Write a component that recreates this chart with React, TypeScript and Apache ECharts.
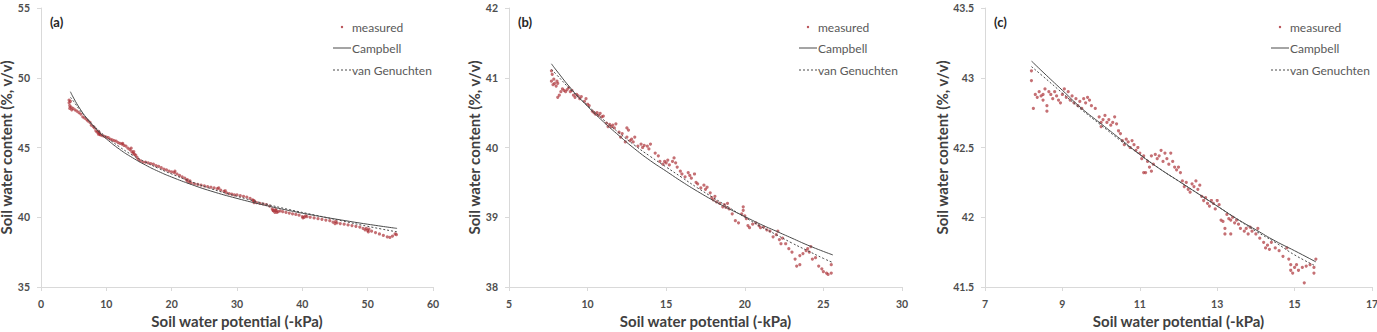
import { useEffect, useRef } from "react";
import * as echarts from "echarts";

// ---------- Panel (a) ----------
const xRangeA = [0, 60, 10];
const yRangeA = [35, 55, 5];
const measuredA: number[][] = [
  [4.3, 48.4], [4.3, 48.2], [4.4, 48.0], [4.4, 47.8], [4.5, 48.3], [4.6, 47.9], [4.7, 47.7], [4.9, 47.8],
  [5.2, 47.7], [5.5, 47.6], [5.8, 47.5], [6.1, 47.4], [6.4, 47.2], [6.7, 47.1], [7.0, 47.0], [7.2, 46.9],
  [7.5, 46.8], [7.7, 46.6], [8.0, 46.5], [8.2, 46.4], [8.4, 46.2], [8.6, 46.1], [8.8, 45.95], [8.8, 46.15],
  [8.9, 46.05], [9.0, 45.95], [9.1, 45.9], [9.4, 45.85], [9.7, 45.8], [10.0, 45.75], [10.3, 45.7], [10.6, 45.6],
  [10.9, 45.55], [11.2, 45.5], [11.5, 45.45], [11.8, 45.35], [12.1, 45.3], [12.4, 45.25], [12.5, 45.3], [12.7, 45.15],
  [13.0, 45.1], [13.3, 44.95], [13.6, 44.85], [13.8, 44.95], [13.9, 44.7], [14.1, 44.6], [14.2, 44.7], [14.3, 44.5],
  [14.5, 44.45], [14.7, 44.3], [14.9, 44.15], [15.2, 44.05], [15.6, 43.95], [16.0, 43.95], [16.4, 43.9], [16.8, 43.85],
  [17.2, 43.8], [17.6, 43.7], [18.0, 43.65], [18.4, 43.55], [18.8, 43.45], [19.2, 43.4], [19.6, 43.3], [20.0, 43.25],
  [20.4, 43.2], [20.5, 43.3], [20.8, 43.1], [21.2, 43.0], [21.6, 42.9], [22.0, 42.8], [22.3, 42.65], [22.4, 42.7],
  [22.6, 42.5], [22.8, 42.6], [23.0, 42.45], [23.5, 42.4], [24.0, 42.35], [24.5, 42.3], [25.0, 42.25], [25.5, 42.2],
  [26.0, 42.15], [26.5, 42.1], [27.0, 42.05], [27.2, 42.1], [27.5, 41.95], [28.0, 41.85], [28.2, 41.9], [28.4, 41.75],
  [28.8, 41.7], [29.2, 41.65], [29.6, 41.6], [30.0, 41.6], [30.5, 41.55], [31.0, 41.5], [31.5, 41.45], [32.0, 41.35],
  [32.4, 41.25], [32.5, 41.2], [32.6, 41.05], [32.7, 41.15], [33.0, 41.05], [33.5, 41.0], [34.0, 40.95], [34.5, 40.9],
  [35.0, 40.8], [35.4, 40.6], [35.5, 40.5], [35.6, 40.45], [35.8, 40.35], [35.9, 40.55], [36.0, 40.5], [36.1, 40.35],
  [36.3, 40.4], [36.6, 40.45], [37.0, 40.4], [37.5, 40.35], [38.0, 40.3], [38.5, 40.25], [39.0, 40.2], [39.5, 40.15],
  [40.0, 40.05], [40.1, 39.95], [40.3, 40.0], [40.5, 40.1], [40.7, 40.05], [41.2, 40.0], [41.8, 39.95], [42.4, 39.9],
  [43.0, 39.85], [43.6, 39.8], [44.2, 39.75], [44.7, 39.65], [45.0, 39.55], [45.1, 39.7], [45.3, 39.6], [45.8, 39.55],
  [46.4, 39.5], [47.0, 39.45], [47.6, 39.4], [48.2, 39.35], [48.8, 39.3], [49.3, 39.2], [49.6, 39.1], [49.8, 39.2],
  [50.0, 39.05], [50.1, 38.95], [50.2, 39.15], [50.6, 39.0], [51.2, 38.9], [51.8, 38.8], [52.4, 38.7], [53.0, 38.6],
  [53.4, 38.55], [53.8, 38.65], [54.2, 38.8], [54.4, 38.75],
];
const campbellA: number[][] = [
  [4.5, 49.0], [5, 48.54], [6, 47.75], [7, 47.1], [8, 46.54], [9, 46.05], [10, 45.62], [12, 44.88], [14, 44.27],
  [16, 43.74], [18, 43.28], [20, 42.88], [23, 42.35], [26, 41.88], [30, 41.35], [34, 40.89], [38, 40.48],
  [42, 40.12], [46, 39.8], [50, 39.5], [54.5, 39.2],
];
const genuchtenA: number[][] = [
  [4.5, 48.6], [5, 48.3], [6, 47.65], [7, 47.1], [8, 46.6], [9, 46.15], [10, 45.75], [12, 45.05], [14, 44.45],
  [16, 43.95], [18, 43.5], [20, 43.1], [23, 42.55], [26, 42.05], [30, 41.5], [34, 41.0], [38, 40.55],
  [42, 40.15], [46, 39.75], [50, 39.35], [54.5, 38.95],
];

// ---------- Panel (b) ----------
const xRangeB = [5, 30, 5];
const yRangeB = [38, 42, 1];
const measuredB: number[][] = [
  [7.7, 41.1], [7.7, 40.95], [7.75, 41.05], [7.8, 40.9], [7.85, 40.98], [7.9, 40.92], [8.0, 40.88], [8.05, 40.95],
  [8.1, 40.92], [8.1, 40.72], [8.2, 40.75], [8.3, 40.8], [8.4, 40.84], [8.5, 40.82], [8.6, 40.8], [8.7, 40.83],
  [8.8, 40.86], [8.9, 40.8], [9.0, 40.82], [9.1, 40.75], [9.2, 40.72], [9.3, 40.76], [9.4, 40.74], [9.5, 40.7],
  [9.6, 40.73], [9.8, 40.66], [9.9, 40.7], [10.0, 40.62], [10.1, 40.6], [10.3, 40.52], [10.4, 40.5], [10.5, 40.48],
  [10.6, 40.5], [10.7, 40.46], [10.8, 40.49], [10.9, 40.44], [11.0, 40.45], [11.2, 40.35], [11.3, 40.3], [11.4, 40.33],
  [11.5, 40.3], [11.6, 40.32], [11.7, 40.28], [11.8, 40.34], [12.0, 40.22], [12.1, 40.15], [12.2, 40.2], [12.4, 40.08],
  [12.5, 40.15], [12.5, 40.28], [12.6, 40.25], [12.7, 40.1], [12.8, 40.12], [12.9, 40.08], [13.0, 40.15], [13.2, 40.02],
  [13.4, 40.05], [13.5, 40.0], [13.6, 40.03], [13.8, 40.02], [13.9, 39.98], [14.0, 40.05], [14.3, 39.92], [14.5, 39.88],
  [14.6, 39.8], [14.8, 39.76], [14.9, 39.8], [15.0, 39.78], [15.1, 39.82], [15.2, 39.75], [15.4, 39.8], [15.5, 39.85],
  [15.6, 39.78], [15.7, 39.72], [15.9, 39.66], [16.0, 39.62], [16.2, 39.58], [16.4, 39.64], [16.5, 39.6], [16.6, 39.56],
  [16.8, 39.62], [16.9, 39.5], [17.0, 39.48], [17.2, 39.42], [17.4, 39.46], [17.5, 39.4], [17.6, 39.43], [17.8, 39.35],
  [17.9, 39.28], [18.0, 39.25], [18.1, 39.3], [18.2, 39.22], [18.4, 39.2], [18.6, 39.15], [18.7, 39.18], [18.8, 39.14],
  [18.9, 39.2], [19.0, 39.12], [19.2, 39.05], [19.4, 38.95], [19.6, 38.92], [19.8, 39.05], [19.9, 39.1], [19.9, 39.15],
  [20.0, 39.02], [20.1, 38.98], [20.2, 38.88], [20.3, 38.85], [20.5, 38.9], [20.7, 38.92], [20.9, 38.88], [21.0, 38.85],
  [21.2, 38.86], [21.4, 38.82], [21.6, 38.8], [21.8, 38.72], [22.0, 38.75], [22.1, 38.8], [22.2, 38.68], [22.3, 38.62],
  [22.4, 38.7], [22.6, 38.62], [22.8, 38.55], [23.0, 38.5], [23.2, 38.4], [23.3, 38.3], [23.5, 38.32], [23.5, 38.45],
  [23.7, 38.48], [23.9, 38.52], [24.0, 38.55], [24.1, 38.5], [24.2, 38.58], [24.3, 38.4], [24.5, 38.42], [24.7, 38.3],
  [24.9, 38.26], [25.0, 38.22], [25.2, 38.2], [25.3, 38.18], [25.5, 38.32], [25.5, 38.2],
];
const campbellB: number[][] = [
  [7.7, 41.2], [8, 41.11], [9, 40.83], [10, 40.59], [11, 40.37], [12, 40.17], [13, 39.98], [14, 39.81], [15, 39.66],
  [16, 39.51], [17, 39.37], [18, 39.24], [19, 39.12], [20, 39.01], [21, 38.9], [22, 38.8], [23, 38.7], [24, 38.6],
  [25, 38.51], [25.6, 38.46],
];
const genuchtenB: number[][] = [
  [7.7, 41.12], [8, 41.05], [9, 40.81], [10, 40.6], [11, 40.4], [12, 40.21], [13, 40.03], [14, 39.87], [15, 39.72],
  [16, 39.57], [17, 39.42], [18, 39.28], [19, 39.14], [20, 39.0], [21, 38.87], [22, 38.75], [23, 38.63], [24, 38.52],
  [25, 38.41], [25.6, 38.35],
];

// ---------- Panel (c) ----------
const xRangeC = [7, 17, 2];
const yRangeC = [41.5, 43.5, 0.5];
const measuredC: number[][] = [
  [8.2, 43.05], [8.2, 42.98], [8.25, 42.78], [8.3, 42.88], [8.35, 42.86], [8.4, 42.9], [8.45, 42.87], [8.5, 42.84],
  [8.5, 42.88], [8.55, 42.92], [8.6, 42.8], [8.6, 42.76], [8.65, 42.9], [8.7, 42.88], [8.75, 42.85], [8.8, 42.9],
  [8.85, 42.87], [8.9, 42.84], [8.95, 42.82], [9.0, 42.88], [9.05, 42.92], [9.1, 42.86], [9.15, 42.9], [9.2, 42.84],
  [9.25, 42.87], [9.3, 42.82], [9.35, 42.85], [9.4, 42.8], [9.45, 42.83], [9.5, 42.78], [9.55, 42.85], [9.6, 42.82],
  [9.65, 42.86], [9.7, 42.84], [9.75, 42.8], [9.85, 42.78], [9.95, 42.72], [10.0, 42.68], [10.0, 42.65], [10.05, 42.7],
  [10.1, 42.73], [10.15, 42.68], [10.2, 42.7], [10.25, 42.66], [10.3, 42.68], [10.35, 42.72], [10.4, 42.67], [10.45, 42.62],
  [10.5, 42.6], [10.55, 42.55], [10.6, 42.52], [10.65, 42.56], [10.7, 42.54], [10.75, 42.5], [10.8, 42.55], [10.85, 42.52],
  [10.9, 42.48], [10.95, 42.5], [11.0, 42.46], [11.05, 42.42], [11.1, 42.44], [11.1, 42.32], [11.15, 42.32], [11.2, 42.4],
  [11.25, 42.36], [11.3, 42.44], [11.3, 42.33], [11.35, 42.38], [11.4, 42.45], [11.45, 42.42], [11.5, 42.44], [11.55, 42.48],
  [11.6, 42.4], [11.65, 42.46], [11.7, 42.42], [11.75, 42.38], [11.8, 42.46], [11.85, 42.4], [11.9, 42.36], [11.95, 42.34],
  [12.0, 42.36], [12.05, 42.32], [12.1, 42.26], [12.15, 42.22], [12.2, 42.25], [12.25, 42.2], [12.3, 42.18], [12.35, 42.24],
  [12.4, 42.22], [12.45, 42.26], [12.5, 42.2], [12.55, 42.23], [12.6, 42.15], [12.65, 42.12], [12.7, 42.14], [12.75, 42.1],
  [12.8, 42.08], [12.85, 42.12], [12.9, 42.1], [12.95, 42.06], [13.0, 42.12], [13.05, 42.09], [13.1, 41.98], [13.15, 41.97],
  [13.2, 41.92], [13.2, 41.88], [13.25, 42.02], [13.3, 41.99], [13.35, 41.98], [13.35, 41.88], [13.4, 42.0], [13.45, 41.96],
  [13.5, 41.98], [13.55, 41.95], [13.6, 41.92], [13.7, 41.9], [13.75, 41.92], [13.8, 41.88], [13.85, 41.93], [13.9, 41.9],
  [14.0, 41.88], [14.05, 41.92], [14.1, 41.85], [14.2, 41.82], [14.25, 41.78], [14.3, 41.8], [14.35, 41.77], [14.4, 41.82],
  [14.5, 41.78], [14.6, 41.76], [14.7, 41.72], [14.8, 41.78], [14.85, 41.7], [14.9, 41.66], [14.9, 41.62], [14.95, 41.6],
  [15.0, 41.64], [15.05, 41.66], [15.1, 41.62], [15.2, 41.64], [15.25, 41.53], [15.3, 41.65], [15.4, 41.66], [15.5, 41.64],
  [15.5, 41.6], [15.55, 41.7],
];
const campbellC: number[][] = [
  [8.2, 43.12], [8.5, 43.04], [9, 42.91], [9.5, 42.78], [10, 42.67], [10.5, 42.56], [11, 42.45], [11.5, 42.35],
  [12, 42.26], [12.5, 42.17], [13, 42.08], [13.5, 41.99], [14, 41.91], [14.5, 41.83], [15, 41.76], [15.55, 41.68],
];
const genuchtenC: number[][] = [
  [8.2, 43.08], [8.5, 43.01], [9, 42.89], [9.5, 42.77], [10, 42.66], [10.5, 42.55], [11, 42.45], [11.5, 42.35],
  [12, 42.26], [12.5, 42.17], [13, 42.08], [13.5, 41.99], [14, 41.9], [14.5, 41.82], [15, 41.73], [15.55, 41.65],
];

const panelLetters = ["(a)", "(b)", "(c)"];
const legendNames = ["measured", "Campbell", "van Genuchten"];
const xTitle = "Soil water potential (-kPa)";
const yTitle = "Soil water content (%, v/v)";

const FONT = "Lato, 'Open Sans', sans-serif";
const AXIS_GRAY = "#d9d9d9";
const LABEL_GRAY = "#4d4d4d";
const TITLE_GRAY = "#404040";
const CURVE = "#4a4a4a";
const DOT = "rgba(170, 44, 50, 0.85)";

// Plot-area layout of the three panels (pixels).
const grids = [
  { left: 41, top: 8, width: 392, height: 279, yNameGap: 23, legendX: 352 },
  { left: 509, top: 8, width: 393, height: 279, yNameGap: 28, legendX: 818 },
  { left: 985, top: 8, width: 387, height: 279, yNameGap: 36, legendX: 1290 },
];

const panels = [
  { x: xRangeA, y: yRangeA, measured: measuredA, campbell: campbellA, genuchten: genuchtenA },
  { x: xRangeB, y: yRangeB, measured: measuredB, campbell: campbellB, genuchten: genuchtenB },
  { x: xRangeC, y: yRangeC, measured: measuredC, campbell: campbellC, genuchten: genuchtenC },
];

function buildOption() {
  const axisCommon = {
    type: "value" as const,
    splitLine: { show: false },
    axisLine: { show: true, lineStyle: { color: AXIS_GRAY, width: 1 } },
    axisTick: { show: true, length: 4, lineStyle: { color: AXIS_GRAY } },
    nameLocation: "middle" as const,
    nameTextStyle: { fontFamily: FONT, fontWeight: "bold", fontSize: 15, color: TITLE_GRAY },
  };
  const labelCommon = {
    fontFamily: FONT,
    fontWeight: "bold",
    fontSize: 10.5,
    color: LABEL_GRAY,
    showMinLabel: true,
    showMaxLabel: true,
  };

  const xAxis = panels.map((p, i) => ({
    ...axisCommon,
    gridIndex: i,
    min: p.x[0],
    max: p.x[1],
    interval: p.x[2],
    name: xTitle,
    nameGap: 26,
    axisLabel: { ...labelCommon, margin: 11 },
  }));
  const yAxis = panels.map((p, i) => ({
    ...axisCommon,
    gridIndex: i,
    min: p.y[0],
    max: p.y[1],
    interval: p.y[2],
    name: yTitle,
    nameGap: grids[i].yNameGap,
    axisLabel: { ...labelCommon, margin: 11 },
  }));

  const series: any[] = [];
  panels.forEach((p, i) => {
    series.push({
      type: "scatter",
      name: legendNames[0],
      xAxisIndex: i,
      yAxisIndex: i,
      data: p.measured,
      symbol: "circle",
      symbolSize: 3.2,
      itemStyle: { color: DOT },
      z: 2,
    });
    series.push({
      type: "line",
      name: legendNames[1],
      xAxisIndex: i,
      yAxisIndex: i,
      data: p.campbell,
      smooth: true,
      symbol: "none",
      lineStyle: { color: CURVE, width: 1 },
      z: 3,
    });
    series.push({
      type: "line",
      name: legendNames[2],
      xAxisIndex: i,
      yAxisIndex: i,
      data: p.genuchten,
      smooth: true,
      symbol: "none",
      lineStyle: { color: CURVE, width: 1, type: [2, 2] },
      z: 3,
    });
  });

  // Legend boxes and panel letters.
  const graphic: any[] = [];
  grids.forEach((g, i) => {
    const tx = g.legendX;
    const rows = [27, 48, 70];
    const legendText = (text: string, y: number) => ({
      type: "text",
      x: tx,
      y,
      style: {
        text,
        font: `12px ${FONT}`,
        fill: "#595959",
        verticalAlign: "middle",
        textVerticalAlign: "middle",
      },
    });
    graphic.push({ type: "circle", shape: { cx: tx - 10, cy: rows[0], r: 1.2 }, style: { fill: DOT } });
    graphic.push(legendText(legendNames[0], rows[0]));
    graphic.push({
      type: "line",
      shape: { x1: tx - 19, y1: rows[1], x2: tx - 1, y2: rows[1] },
      style: { stroke: CURVE, lineWidth: 1 },
    });
    graphic.push(legendText(legendNames[1], rows[1]));
    graphic.push({
      type: "line",
      shape: { x1: tx - 19, y1: rows[2], x2: tx - 1, y2: rows[2] },
      style: { stroke: CURVE, lineWidth: 1, lineDash: [2, 2] },
    });
    graphic.push(legendText(legendNames[2], rows[2]));
    graphic.push({
      type: "text",
      x: g.left + 9,
      y: 22,
      style: {
        text: panelLetters[i],
        font: `bold 13px ${FONT}`,
        fill: "#262626",
        verticalAlign: "middle",
        textVerticalAlign: "middle",
      },
    });
  });

  return {
    animation: false,
    backgroundColor: "#ffffff",
    grid: grids.map((g) => ({
      left: g.left,
      top: g.top,
      width: g.width,
      height: g.height,
      containLabel: false,
      outerBoundsMode: "none",
    })),
    xAxis,
    yAxis,
    series,
    graphic,
  };
}

export default function App() {
  const ref = useRef<HTMLDivElement>(null);
  useEffect(() => {
    if (!ref.current) return;
    const chart = echarts.init(ref.current, undefined, { renderer: "svg" });
    chart.setOption(buildOption() as any);
    return () => chart.dispose();
  }, []);
  return (
    <div
      ref={ref}
      style={{ position: "fixed", left: 0, top: 0, width: 1377, height: 332, background: "#fff" }}
    />
  );
}
